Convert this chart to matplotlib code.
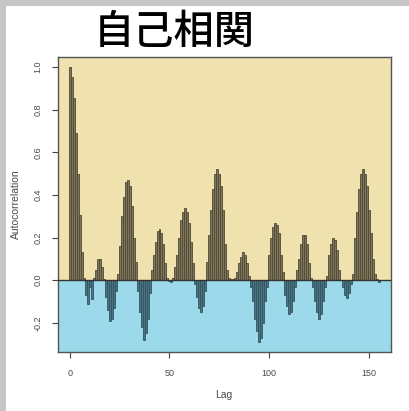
import matplotlib
matplotlib.use("Agg")
import matplotlib.pyplot as plt
from matplotlib.patches import Rectangle
import numpy as np

plt.rcParams["font.family"] = ["Liberation Sans", "DejaVu Sans"]

title = "自己相関"
x_label = "Lag"
y_label = "Autocorrelation"
x_ticks = [0, 50, 100, 150]
y_ticks = [-0.2, 0.0, 0.2, 0.4, 0.6, 0.8, 1.0]

# autocorrelation at lags 0..155
acf = [
    1.0, 0.955, 0.853, 0.69, 0.50, 0.305, 0.13, 0.01, -0.07, -0.11,
    -0.03, -0.09, 0.01, 0.05, 0.10, 0.10, 0.06, 0.005, -0.08, -0.14,
    -0.19, -0.18, -0.13, -0.05, 0.03, 0.16, 0.30, 0.39, 0.46, 0.47,
    0.44, 0.35, 0.20, 0.086, -0.05, -0.15, -0.22, -0.28, -0.25, -0.18,
    -0.06, 0.05, 0.12, 0.18, 0.23, 0.24, 0.22, 0.17, 0.08, 0.01,
    -0.005, -0.01, 0.01, 0.06, 0.12, 0.20, 0.28, 0.32, 0.34, 0.32,
    0.27, 0.18, 0.08, -0.02, -0.08, -0.13, -0.15, -0.12, -0.05, 0.086,
    0.21, 0.33, 0.43, 0.50, 0.52, 0.50, 0.44, 0.33, 0.17, 0.05,
    0.01, 0.005, 0.005, 0.01, 0.04, 0.08, 0.11, 0.13, 0.12, 0.08,
    0.02, -0.03, -0.10, -0.18, -0.24, -0.29, -0.27, -0.20, -0.10, -0.03,
    0.12, 0.20, 0.25, 0.27, 0.26, 0.22, 0.12, 0.04, -0.07, -0.12,
    -0.16, -0.15, -0.10, -0.03, 0.05, 0.10, 0.17, 0.21, 0.21, 0.17,
    0.08, 0.01, -0.03, -0.10, -0.15, -0.18, -0.16, -0.10, -0.03, 0.02,
    0.12, 0.17, 0.20, 0.19, 0.14, 0.05, 0.0, -0.03, -0.07, -0.085,
    -0.06, -0.02, 0.03, 0.20, 0.32, 0.43, 0.50, 0.52, 0.50, 0.44,
    0.33, 0.22, 0.10, 0.03, 0.005, -0.01,
]
lags = np.arange(len(acf))
vals = np.array(acf)

W, H = 409, 411
fig = plt.figure(figsize=(W / 100, H / 100), dpi=100)
fig.patch.set_facecolor("white")

# grey window edge along the top and left
fig.add_artist(Rectangle((0, 1 - 6 / H), 1, 6 / H, transform=fig.transFigure,
                         color="#c6c6c6", lw=0, zorder=0))
fig.add_artist(Rectangle((0, 0), 6 / W, 1, transform=fig.transFigure,
                         color="#c6c6c6", lw=0, zorder=0))

left, right, top, bottom = 57.5, 391.0, 57.0, 352.0
ax = fig.add_axes([left / W, 1 - bottom / H, (right - left) / W, (bottom - top) / H])

xmin, xmax = -6.2, 161.2
ymin, ymax = -0.337, 1.047
ax.set_xlim(xmin, xmax)
ax.set_ylim(ymin, ymax)

ax.axhspan(0, ymax, color="#efe2ae", lw=0, zorder=0)
ax.axhspan(ymin, 0, color="#9cd9ea", lw=0, zorder=0)

pos = vals >= 0
ax.bar(lags[pos], vals[pos], width=1.0, color="#7f765b", edgecolor="#4f4937",
       linewidth=0.6, zorder=2)
ax.bar(lags[~pos], vals[~pos], width=1.0, color="#4a7482", edgecolor="#34555f",
       linewidth=0.6, zorder=2)
ax.axhline(0, color="#333333", lw=1.0, zorder=3)

for s in ax.spines.values():
    s.set_color("#555555")
    s.set_linewidth(1.0)

ax.set_xticks(x_ticks)
ax.set_yticks(y_ticks)
ax.set_yticklabels([f"{v:.1f}" for v in y_ticks], rotation=90, va="center")
ax.tick_params(axis="both", direction="out", length=4, width=0.8,
               color="#444444", labelsize=6.5, labelcolor="#4a4a4a")
ax.tick_params(axis="x", pad=8)
ax.tick_params(axis="y", pad=7)

ax.set_xlabel(x_label, fontsize=7.5, color="#4a4a4a", labelpad=9)
ax.set_ylabel(y_label, fontsize=7.5, color="#4a4a4a", labelpad=9)

fig.text(94 / W, 1 - 32 / H, title, fontsize=29, fontweight="medium",
         family=["Noto Sans CJK JP", "DejaVu Sans"], color="black",
         ha="left", va="center")

fig.savefig("out.png", dpi=100, facecolor="white")
